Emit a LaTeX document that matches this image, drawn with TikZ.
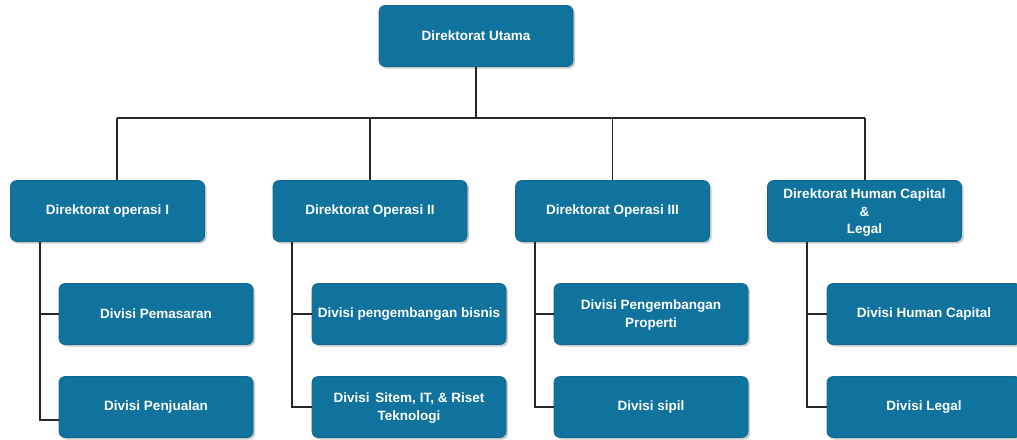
\documentclass[tikz,border=0pt]{standalone}
\usepackage{fontspec}
\setmainfont{Liberation Sans}
\usetikzlibrary{shadows}
\definecolor{boxblue}{HTML}{10739E}
\tikzset{
  box/.style={rectangle, rounded corners=6pt, fill=boxblue, draw=boxblue!90!black, line width=0.6pt,
    minimum width=194pt, minimum height=61pt, text=white, align=center,
    font=\fontsize{13.5pt}{17.5pt}\selectfont\bfseries, inner sep=2pt,
    drop shadow={shadow xshift=2pt, shadow yshift=-2pt, opacity=0.35, fill=black!60}},
  conn/.style={draw=black!85, line width=1.4pt}
}
\begin{document}
\begin{tikzpicture}[x=1pt,y=-1pt]
\useasboundingbox (0,0) rectangle (1017,439);
% nodes
\node[box] (top) at (476,36) {Direktorat Utama};
\node[box] (d1) at (107.5,211) {Direktorat operasi I};
\node[box] (d2) at (370,211) {Direktorat Operasi II};
\node[box] (d3) at (612.5,211) {Direktorat Operasi III};
\node[box] (d4) at (864.5,211) {\rule{0pt}{13pt}Direktorat Human Capital\\\&\\Legal};
\node[box] (c11) at (156,314) {Divisi Pemasaran};
\node[box] (c12) at (156,407) {Divisi Penjualan};
\node[box] (c21) at (409,314) {Divisi pengembangan bisnis};
\node[box] (c22) at (409,407) {\rule{0pt}{12pt}Divisi\hspace{2pt} Sitem, IT, \& Riset\\Teknologi};
\node[box] (c31) at (651,314) {\rule{0pt}{12pt}Divisi Pengembangan\\Properti};
\node[box] (c32) at (651,407) {Divisi sipil};
\node[box] (c41) at (924,314) {Divisi Human Capital};
\node[box] (c42) at (924,407) {Divisi Legal};
% bus
\coordinate (b1) at (117,118);
\coordinate (b4) at (865,118);
\draw[conn] (top.south) -- (top.south |- b1);
\draw[conn] (b1) -- (b4);
\draw[conn] (b1) -- (b1 |- d1.north);
\draw[conn] (d2.north |- b1) -- (d2.north);
\draw[conn] (d3.north |- b1) -- (d3.north);
\draw[conn] (b4) -- (b4 |- d4.north);
% spines
\coordinate (s1) at (40,0);
\coordinate (s2) at (292,0);
\coordinate (s3) at (535,0);
\coordinate (s4) at (807,0);
\coordinate (e12) at (59,420);
\draw[conn] (d1.south -| s1) -- (s1 |- e12) -- (e12);
\draw[conn] (s1 |- c11.west) -- (c11.west);
\draw[conn] (d2.south -| s2) |- (c22.west);
\draw[conn] (s2 |- c21.west) -- (c21.west);
\draw[conn] (d3.south -| s3) |- (c32.west);
\draw[conn] (s3 |- c31.west) -- (c31.west);
\draw[conn] (d4.south -| s4) |- (c42.west);
\draw[conn] (s4 |- c41.west) -- (c41.west);
\end{tikzpicture}
\end{document}
